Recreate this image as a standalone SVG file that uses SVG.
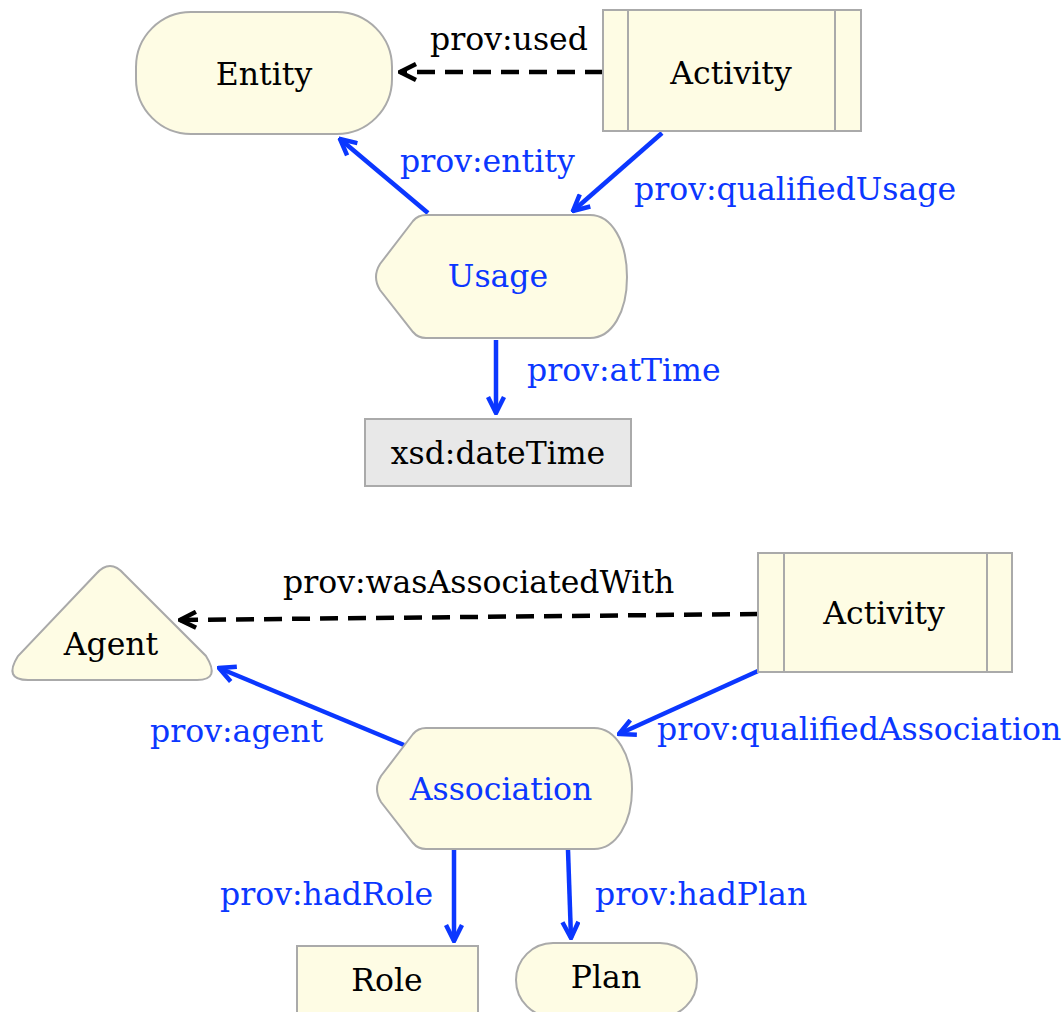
<svg xmlns="http://www.w3.org/2000/svg" width="1064" height="1012" viewBox="0 0 1064 1012">
<style>
text{font-family:"DejaVu Serif","Liberation Serif",serif;font-size:31.5px}
.node{fill:#fefce4;stroke:#aaaaaa;stroke-width:2}
.lit{fill:#e8e8e8;stroke:#aaaaaa;stroke-width:2}
.sep{stroke:#aaaaaa;stroke-width:2;fill:none}
.blk{fill:#000}
.blu{fill:#0b37ff}
.mid{text-anchor:middle}
.eb{stroke:#0b37ff;stroke-width:4.5;fill:none}
.ek{stroke:#000;stroke-width:4.5;fill:none;stroke-dasharray:18 10}
</style>
<defs>
<marker id="ab" markerUnits="userSpaceOnUse" viewBox="0 0 20 20" markerWidth="20" markerHeight="20" refX="18" refY="10" orient="auto">
<path d="M2,2 L18,10 L2,18" fill="none" stroke="#0b37ff" stroke-width="4.5"/>
</marker>
<marker id="ak" markerUnits="userSpaceOnUse" viewBox="0 0 20 20" markerWidth="20" markerHeight="20" refX="18" refY="10" orient="auto">
<path d="M2,2 L18,10 L2,18" fill="none" stroke="#000" stroke-width="4.5"/>
</marker>
</defs>
<g id="connectors">
<line class="ek" x1="603" y1="72" x2="400" y2="72" marker-end="url(#ak)"/>
<text class="blk" x="430" y="50">prov:used</text>
<line class="eb" x1="428" y1="213" x2="340" y2="139" marker-end="url(#ab)"/>
<text class="blu" x="400" y="172">prov:entity</text>
<line class="eb" x1="662" y1="133" x2="573" y2="211" marker-end="url(#ab)"/>
<text class="blu" x="634" y="200">prov:qualifiedUsage</text>
<line class="eb" x1="496" y1="340" x2="496" y2="413" marker-end="url(#ab)"/>
<text class="blu" x="527" y="381">prov:atTime</text>
<line class="ek" x1="758" y1="614" x2="180" y2="620" marker-end="url(#ak)"/>
<text class="blk" x="283" y="593">prov:wasAssociatedWith</text>
<line class="eb" x1="404" y1="745" x2="219" y2="668" marker-end="url(#ab)"/>
<text class="blu" x="150" y="742">prov:agent</text>
<line class="eb" x1="758" y1="671" x2="619" y2="734" marker-end="url(#ab)"/>
<text class="blu" x="657" y="740">prov:qualifiedAssociation</text>
<line class="eb" x1="454" y1="850" x2="454" y2="941" marker-end="url(#ab)"/>
<text class="blu" x="220" y="905">prov:hadRole</text>
<line class="eb" x1="568" y1="850" x2="571" y2="938" marker-end="url(#ab)"/>
<text class="blu" x="595" y="905">prov:hadPlan</text>
</g>
<g id="entity">
<rect class="node" x="136" y="12" width="256" height="122" rx="55" ry="55"/>
<text class="blk mid" x="264" y="85">Entity</text>
</g>
<g id="activity1">
<rect class="node" x="603" y="10" width="258" height="121"/>
<line class="sep" x1="628" y1="10" x2="628" y2="131"/>
<line class="sep" x1="835" y1="10" x2="835" y2="131"/>
<text class="blk mid" x="731" y="84">Activity</text>
</g>
<g id="usage">
<path class="node" d="M426,215 L590,215 C612,215 627,242 627,277 C627,312 612,338 590,338 L426,338 Q418,338 413,332 L380,290 Q372,277 380,264 L413,221 Q418,215 426,215 Z"/>
<text class="blu mid" x="498" y="287">Usage</text>
</g>
<g id="datetime">
<rect class="lit" x="365" y="419" width="266" height="67"/>
<text class="blk mid" x="498" y="464">xsd:dateTime</text>
</g>
<g id="agent">
<path class="node" d="M96,574 Q110,558 124,574 L206,656 Q221,680 197,680 L28,680 Q3,680 18,656 Z"/>
<text class="blk mid" x="111" y="655">Agent</text>
</g>
<g id="activity2">
<rect class="node" x="758" y="553" width="254" height="119"/>
<line class="sep" x1="784" y1="553" x2="784" y2="672"/>
<line class="sep" x1="987" y1="553" x2="987" y2="672"/>
<text class="blk mid" x="884" y="624">Activity</text>
</g>
<g id="association">
<path class="node" d="M426,728 L594,728 C616,728 632,755 632,789 C632,823 616,849 594,849 L426,849 Q418,849 413,843 L381,802 Q373,789 381,776 L413,734 Q418,728 426,728 Z"/>
<text class="blu mid" x="501" y="800">Association</text>
</g>
<g id="role">
<rect class="node" x="297" y="946" width="181" height="80"/>
<text class="blk mid" x="387" y="991">Role</text>
</g>
<g id="plan">
<rect class="node" x="516" y="943" width="181" height="74" rx="37" ry="37"/>
<text class="blk mid" x="606" y="988">Plan</text>
</g>
</svg>
